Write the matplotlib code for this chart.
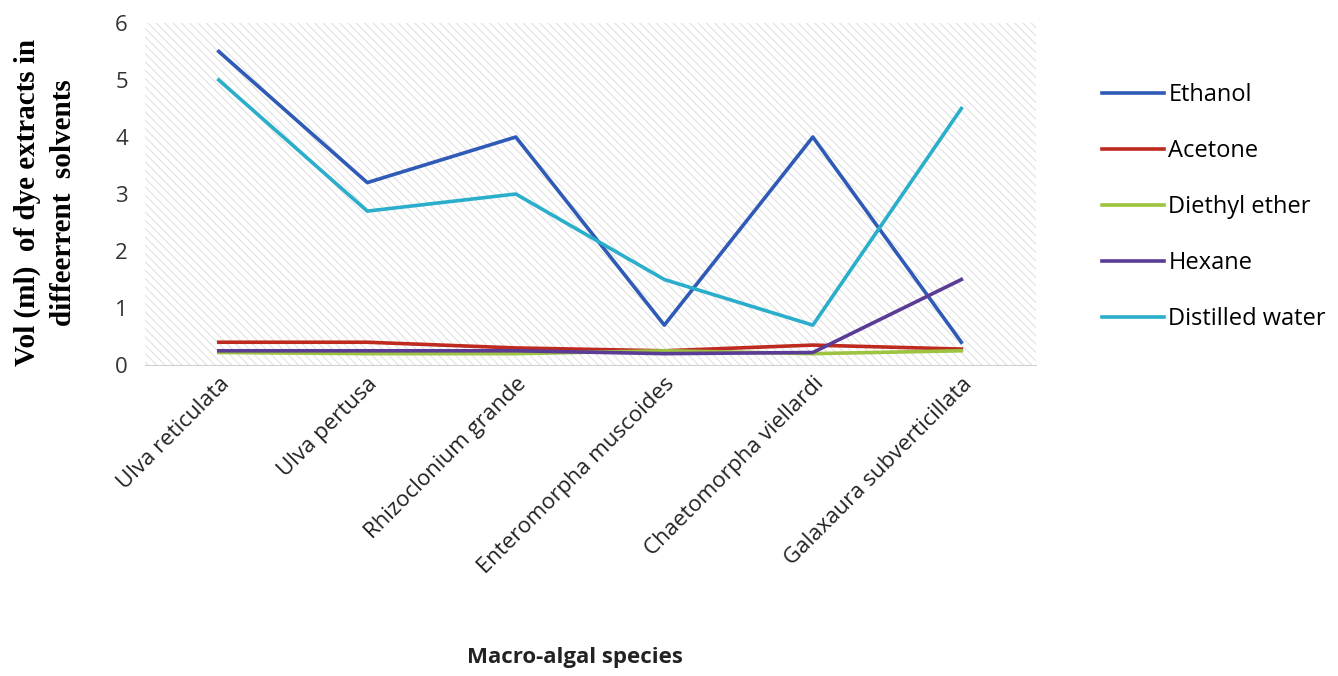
import matplotlib.pyplot as plt
from matplotlib.patches import Rectangle
import numpy as np

species = ["Ulva reticulata", "Ulva pertusa", "Rhizoclonium grande",
           "Enteromorpha muscoides", "Chaetomorpha viellardi",
           "Galaxaura subverticillata"]

ethanol = [5.5, 3.2, 4.0, 0.7, 4.0, 0.4]
acetone = [0.4, 0.4, 0.3, 0.25, 0.35, 0.28]
diethyl_ether = [0.22, 0.2, 0.2, 0.25, 0.2, 0.25]
hexane = [0.25, 0.25, 0.25, 0.2, 0.22, 1.5]
distilled_water = [5.0, 2.7, 3.0, 1.5, 0.7, 4.5]

series = [
    ("Ethanol", ethanol, "#2F5BB7"),
    ("Acetone", acetone, "#BE2A20"),
    ("Diethyl ether", diethyl_ether, "#9CC43E"),
    ("Hexane", hexane, "#5A3B96"),
    ("Distilled water", distilled_water, "#2AAECB"),
]

plt.rcParams["hatch.color"] = "#dedede"
plt.rcParams["hatch.linewidth"] = 0.7

fig = plt.figure(figsize=(13.38, 6.76), dpi=100)
ax = fig.add_axes([0.108, 0.46, 0.666, 0.506])

# hatched plot background
bg = Rectangle((0, 0), 1, 1, transform=ax.transAxes, facecolor="white",
               edgecolor="#dedede", linewidth=0, hatch="\\\\\\\\", zorder=0)
ax.add_patch(bg)

x = np.arange(len(species))
for name, vals, col in series:
    ax.plot(x, vals, color=col, linewidth=2.6, label=name, zorder=3)

ax.set_xlim(-0.5, len(species) - 0.5)
ax.set_ylim(0, 6)
ax.set_yticks(range(0, 7))
ax.set_xticks(x)
ax.set_xticklabels(species, rotation=45, ha="right", rotation_mode="anchor",
                   fontsize=16, family="Open Sans", color="#222222")
for lab in ax.get_yticklabels():
    lab.set_fontsize(16)
    lab.set_family("Open Sans")
    lab.set_color("#333333")
ax.tick_params(length=0, pad=12)
ax.tick_params(axis="x", pad=6)

for s in ["top", "right", "left"]:
    ax.spines[s].set_visible(False)
ax.spines["bottom"].set_color("#d0d0d0")
ax.spines["bottom"].set_zorder(2)

fig.text(0.034, 0.7, "Vol (ml)  of dye extracts in\ndiffeerrent  solvents",
         rotation=90, ha="center", va="center", fontsize=21,
         fontweight="bold", family="Liberation Serif", linespacing=1.45)

fig.text(0.43, 0.012, "Macro-algal species", ha="center", va="bottom",
         fontsize=16, fontweight="bold", family="Open Sans", color="#222222")

fig.legend(loc="upper left", bbox_to_anchor=(0.808, 0.908), frameon=False,
           prop={"family": "Open Sans", "size": 17}, labelspacing=1.35,
           handlelength=2.6, handletextpad=0.2)

fig.savefig("out.png", dpi=100)
